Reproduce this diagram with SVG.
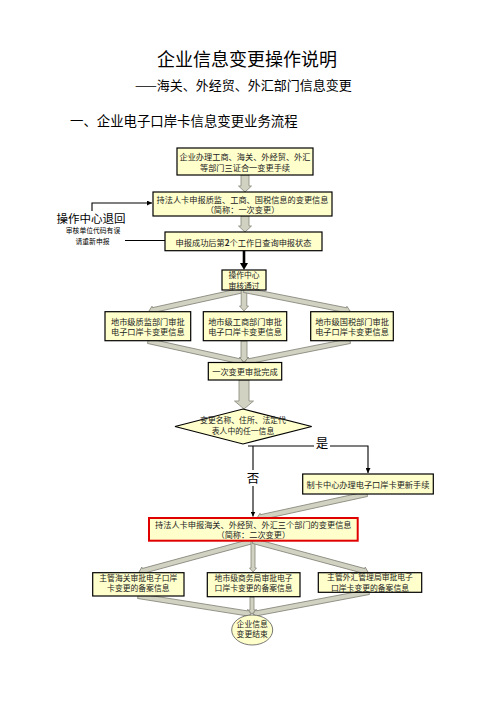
<svg xmlns="http://www.w3.org/2000/svg" width="496" height="702" viewBox="0 0 496 702">
<style>
.box{fill:#FFFFCC;stroke:#000;stroke-width:1.2}
.red{fill:#FFFFCC;stroke:#E00000;stroke-width:2}
.t{font-family:"Noto Sans CJK SC","Liberation Sans",sans-serif;font-size:8.2px;fill:#222;text-anchor:middle;dominant-baseline:central}
.s{font-size:7.8px}
.ba{fill:#D2D2C2;stroke:#85857A;stroke-width:0.8}
.ln{fill:none;stroke:#000;stroke-width:1.1}
.hd{font-family:"Noto Sans CJK SC","Liberation Sans",sans-serif;fill:#000}
</style>
<defs>
<marker id="ah" viewBox="0 0 6 6" refX="6" refY="3" markerWidth="5" markerHeight="5" markerUnits="userSpaceOnUse" orient="auto"><path d="M0,0 L6,3 L0,6 Z" fill="#000"/></marker>
</defs>
<rect width="496" height="702" fill="#fff"/>
<text class="hd" x="247" y="66" font-size="18" text-anchor="middle">企业信息变更操作说明</text>
<text class="hd" x="135" y="89.5" font-size="13">——海关、外经贸、外汇部门信息变更</text>
<text class="hd" x="70" y="126" font-size="13.4">一、企业电子口岸卡信息变更业务流程</text>

<g id="connectors">
<path class="ba" transform="translate(245,175) rotate(90)" d="M0,-4 L11,-4 L11,-6.5 L17,0 L11,6.5 L11,4 L0,4 Z"/>
<path class="ba" transform="translate(245,216) rotate(90)" d="M0,-4 L10,-4 L10,-6.5 L16,0 L10,6.5 L10,4 L0,4 Z"/>
<line x1="244" y1="250.7" x2="244" y2="264" stroke="#000" stroke-width="2.6"/>
<path d="M240,263 L248,263 L244,270 Z" fill="#000"/>
<path class="ba" transform="translate(244,290) rotate(167.54)" d="M0,-2.5 L93.3,-2.5 L93.3,-4 L97.3,0 L93.3,4 L93.3,2.5 L0,2.5 Z"/>
<path class="ba" transform="translate(244,290) rotate(90)" d="M0,-2.8 L16,-2.8 L16,-4.5 L21,0 L16,4.5 L16,2.8 L0,2.8 Z"/>
<path class="ba" transform="translate(244,290) rotate(11.21)" d="M0,-2.5 L104.1,-2.5 L104.1,-4 L108.1,0 L104.1,4 L104.1,2.5 L0,2.5 Z"/>
<path class="ba" transform="translate(148,341) rotate(12.46)" d="M0,-2.5 L93.3,-2.5 L93.3,-4 L97.3,0 L93.3,4 L93.3,2.5 L0,2.5 Z"/>
<path class="ba" transform="translate(244,341) rotate(90)" d="M0,-3 L16.5,-3 L16.5,-4.5 L21,0 L16.5,4.5 L16.5,3 L0,3 Z"/>
<path class="ba" transform="translate(350,341) rotate(168.69)" d="M0,-2.5 L103.1,-2.5 L103.1,-4 L107.1,0 L103.1,4 L103.1,2.5 L0,2.5 Z"/>
<path class="ba" transform="translate(244,380) rotate(90)" d="M0,-5 L21,-5 L21,-9.5 L29,0 L21,9.5 L21,5 L0,5 Z"/>
<polyline class="ln" points="248,446 368,446 368,473" marker-end="url(#ah)"/>
<line class="ln" x1="253" y1="446" x2="253" y2="516.5" marker-end="url(#ah)"/>
<rect x="314" y="437" width="16" height="14" fill="#fff"/>
<text class="hd" x="322" y="448" font-size="12.5" text-anchor="middle">是</text>
<rect x="246" y="470" width="14" height="16" fill="#fff"/>
<text class="hd" x="253" y="482.5" font-size="12.5" text-anchor="middle">否</text>
<path class="ba" transform="translate(367,494) rotate(167.69)" d="M0,-2.5 L108.6,-2.5 L108.6,-4 L112.6,0 L108.6,4 L108.6,2.5 L0,2.5 Z"/>
<path class="ba" transform="translate(253,541) rotate(164.79)" d="M0,-2.5 L114.1,-2.5 L114.1,-4 L118.1,0 L114.1,4 L114.1,2.5 L0,2.5 Z"/>
<path class="ba" transform="translate(253,541) rotate(90)" d="M0,-2 L27,-2 L27,-3.5 L31,0 L27,3.5 L27,2 L0,2 Z"/>
<path class="ba" transform="translate(253,541) rotate(15.09)" d="M0,-2.5 L115.1,-2.5 L115.1,-4 L119.1,0 L115.1,4 L115.1,2.5 L0,2.5 Z"/>
<path class="ba" transform="translate(138,596) rotate(9.05)" d="M0,-2.5 L110.4,-2.5 L110.4,-4 L114.4,0 L110.4,4 L110.4,2.5 L0,2.5 Z"/>
<path class="ba" transform="translate(252,597) rotate(90)" d="M0,-2 L13,-2 L13,-3.5 L17,0 L13,3.5 L13,2 L0,2 Z"/>
<path class="ba" transform="translate(369,592) rotate(169.26)" d="M0,-2.5 L114.1,-2.5 L114.1,-4 L118.1,0 L114.1,4 L114.1,2.5 L0,2.5 Z"/>
<polyline class="ln" points="92,211 92,203 152,203" marker-end="url(#ah)"/>
<line class="ln" x1="125" y1="240.5" x2="165" y2="240.5"/>
</g>

<g id="n-return">
<text class="hd" x="91" y="222.5" font-size="11.5" text-anchor="middle">操作中心退回</text>
<text class="hd" x="93" y="232.5" font-size="6.8" text-anchor="middle" fill="#333">审核单位代码有误</text>
<text class="hd" x="92.5" y="243.5" font-size="6.8" text-anchor="middle" fill="#333">请重新申报</text>
</g>
<g id="n1"><rect class="box" x="177" y="148" width="136" height="27"/>
<text class="t" x="245" y="156">企业办理工商、海关、外经贸、外汇</text>
<text class="t" x="245" y="166.5">等部门三证合一变更手续</text></g>
<g id="n2"><rect class="box" x="153" y="192" width="179" height="24"/>
<text class="t" x="242.5" y="198.5">持法人卡申报质监、工商、国税信息的变更信息</text>
<text class="t" x="242.5" y="209">（简称：一次变更）</text></g>
<g id="n3"><rect class="box" x="165" y="232" width="157" height="18.7"/>
<text class="t" x="243.5" y="241.5">申报成功后第<tspan font-weight="bold">2</tspan>个工作日查询申报状态</text></g>
<g id="n4"><rect class="box" x="222" y="270" width="44" height="20"/>
<text class="t s" x="244" y="274.5">操作中心</text>
<text class="t s" x="244" y="285">审核通过</text></g>
<g id="n5"><rect class="box" x="105" y="311.7" width="85.7" height="29"/>
<text class="t" x="147.8" y="320.5">地市级质监部门审批</text>
<text class="t" x="147.8" y="331">电子口岸卡变更信息</text></g>
<g id="n6"><rect class="box" x="203.3" y="311.7" width="83.4" height="29"/>
<text class="t" x="245" y="320.5">地市级工商部门审批</text>
<text class="t" x="245" y="331">电子口岸卡变更信息</text></g>
<g id="n7"><rect class="box" x="310.7" y="311.7" width="82.6" height="29"/>
<text class="t" x="352" y="320.5">地市级国税部门审批</text>
<text class="t" x="352" y="331">电子口岸卡变更信息</text></g>
<g id="n8"><rect class="box" x="208.3" y="362.5" width="73.4" height="17.5"/>
<text class="t" x="245" y="371">一次变更审批完成</text></g>
<g id="n9"><polygon class="box" points="243,409 311.7,426.5 243,444 175,426.5" stroke-width="0.6" stroke="#666"/>
<text class="t s" x="243" y="419.5">变更名称、住所、法定代</text>
<text class="t s" x="243" y="430">表人中的任一信息</text></g>
<g id="n10"><rect class="box" x="302.7" y="474" width="130.6" height="20"/>
<text class="t" x="368" y="484">制卡中心办理电子口岸卡更新手续</text></g>
<g id="n11"><rect class="red" x="149" y="518" width="208.7" height="22.7"/>
<text class="t" x="253.3" y="523.5">持法人卡申报海关、外经贸、外汇三个部门的变更信息</text>
<text class="t" x="253.3" y="534">（简称：二次变更）</text></g>
<g id="n12"><rect class="box" x="92.7" y="572.7" width="91.3" height="23.3"/>
<text class="t s" x="138.3" y="577">主管海关审批电子口岸</text>
<text class="t s" x="138.3" y="587.5">卡变更的备案信息</text></g>
<g id="n13"><rect class="box" x="207.3" y="572.7" width="92.7" height="24"/>
<text class="t s" x="253.6" y="577">地市级商务局审批电子</text>
<text class="t s" x="253.6" y="587.5">口岸卡变更的备案信息</text></g>
<g id="n14"><rect class="box" x="318.3" y="572.7" width="103.4" height="19.6"/>
<text class="t s" x="370" y="576.5">主管外汇管理局审批电子</text>
<text class="t s" x="370" y="587">口岸卡变更的备案信息</text></g>
<g id="n15"><ellipse cx="252.2" cy="630" rx="20.5" ry="15" fill="#FFFFCC" stroke="#555" stroke-width="0.8"/>
<text class="t s" x="252.2" y="623">企业信息</text>
<text class="t s" x="252.2" y="633.5">变更结束</text></g>
</svg>
